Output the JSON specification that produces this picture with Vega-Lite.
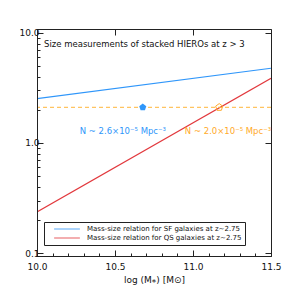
{
  "$schema": "https://vega.github.io/schema/vega-lite/v6.json",
  "width": 234,
  "height": 227,
  "autosize": {"type": "none"},
  "padding": {"left": 37, "top": 29, "right": 22, "bottom": 37},
  "config": {
    "view": {"stroke": "#222", "strokeWidth": 1},
    "font": "DejaVu Sans",
    "axis": {"grid": false, "zindex": 1, "domainColor": "#222", "tickColor": "#222", "tickWidth": 1, "labelColor": "#111", "titleColor": "#111", "labelFont": "DejaVu Sans", "titleFont": "DejaVu Sans", "titleFontWeight": "normal", "labelOverlap": false, "labelFlush": false}
  },
  "resolve": {"axis": {"x": "independent", "y": "independent"}, "scale": {"color": "independent"}},
  "layer": [
    {
      "data": {"values": [
        {"series": "Mass-size relation for SF galaxies at z~2.75", "logm": 10.0, "re": 2.53},
        {"series": "Mass-size relation for SF galaxies at z~2.75", "logm": 11.5, "re": 4.78},
        {"series": "Mass-size relation for QS galaxies at z~2.75", "logm": 10.0, "re": 0.236},
        {"series": "Mass-size relation for QS galaxies at z~2.75", "logm": 11.5, "re": 3.87}
      ]},
      "mark": {"type": "line", "strokeWidth": 1.1, "clip": true},
      "encoding": {
        "x": {"field": "logm", "type": "quantitative", "scale": {"domain": [10, 11.5], "nice": false, "zero": false},
          "axis": {"orient": "bottom", "values": [10, 10.5, 11, 11.5], "format": ".1f", "tickSize": -6, "zindex": 1,
            "labelPadding": 12, "labelFontSize": 9, "title": "log (M⁎) [M⊙]", "titleFontSize": 9, "titlePadding": 4}},
        "y": {"field": "re", "type": "quantitative", "scale": {"type": "log", "domain": [0.094, 10.86], "nice": false},
          "axis": {"orient": "left", "values": [0.1, 1, 10], "format": ".1f", "tickSize": -6, "zindex": 1,
            "labelPadding": 4, "labelFontSize": 9, "title": "Rₑ [kpc]", "titleFontSize": 9, "titlePadding": 21}},
        "color": {"field": "series", "type": "nominal",
          "scale": {"domain": ["Mass-size relation for SF galaxies at z~2.75", "Mass-size relation for QS galaxies at z~2.75"], "range": ["#2f96fa", "#e2383d"]},
          "legend": {"orient": "none", "legendX": 7, "legendY": 193, "title": null, "symbolType": "M-4.7,0H4.7", "symbolStrokeWidth": 2, "symbolOpacity": 0.4, "symbolSize": 30, "symbolOffset": 16, "labelOffset": 16, "labelFontSize": 7, "labelFont": "DejaVu Sans", "labelColor": "#111", "strokeColor": "#222", "padding": 3, "rowPadding": 1, "cornerRadius": 0, "fillColor": "white", "labelLimit": 300}}
      }
    },
    {
      "data": {"values": [{"re": 2.11}]},
      "mark": {"type": "rule", "color": "#ffb63a", "strokeDash": [4, 3], "strokeWidth": 1},
      "encoding": {"y": {"field": "re", "type": "quantitative", "axis": null}}
    },
    {
      "data": {"values": [
        {"sample": "N1", "logm": 10.678, "re": 2.11},
        {"sample": "N2", "logm": 11.168, "re": 2.11}
      ]},
      "layer": [
        {
          "transform": [{"filter": "datum.sample=='N1'"}],
          "mark": {"type": "point", "shape": "M0,-1L0.951,-0.309L0.588,0.809L-0.588,0.809L-0.951,-0.309Z", "filled": true, "color": "#2f96fa", "size": 55, "opacity": 1},
          "encoding": {
            "x": {"field": "logm", "type": "quantitative", "axis": {"orient": "top", "values": [10, 10.5, 11, 11.5], "tickSize": -6, "zindex": 1, "labels": false, "domain": false, "title": null}},
            "y": {"field": "re", "type": "quantitative", "axis": {"orient": "right", "values": [0.1, 1, 10], "tickSize": -6, "zindex": 1, "labels": false, "domain": false, "title": null}}
          }
        },
        {
          "transform": [{"filter": "datum.sample=='N2'"}],
          "mark": {"type": "point", "shape": "M0,-1L0.951,-0.309L0.588,0.809L-0.588,0.809L-0.951,-0.309Z", "filled": false, "color": "#ffaa2a", "size": 55, "strokeWidth": 1, "opacity": 1},
          "encoding": {
            "x": {"field": "logm", "type": "quantitative", "axis": {"orient": "top", "values": [10.1, 10.2, 10.3, 10.4, 10.6, 10.7, 10.8, 10.9, 11.1, 11.2, 11.3, 11.4], "tickSize": -3, "zindex": 1, "labels": false, "domain": false, "title": null}},
            "y": {"field": "re", "type": "quantitative", "axis": {"orient": "right", "values": [0.2, 0.3, 0.4, 0.5, 0.6, 0.7, 0.8, 0.9, 2, 3, 4, 5, 6, 7, 8, 9], "tickSize": -3, "zindex": 1, "labels": false, "domain": false, "title": null}}
          }
        }
      ]
    },
    {
      "data": {"values": [
        {"label": "Size measurements of stacked HIEROs at z > 3", "logm": 10.045, "re": 7.9}
      ]},
      "mark": {"type": "text", "fontSize": 8.5, "font": "DejaVu Sans", "align": "left", "color": "#111"},
      "encoding": {
        "x": {"field": "logm", "type": "quantitative",
          "axis": {"orient": "bottom", "values": [10.1, 10.2, 10.3, 10.4, 10.6, 10.7, 10.8, 10.9, 11.1, 11.2, 11.3, 11.4], "tickSize": -3, "zindex": 1, "labels": false, "title": null, "domain": false}},
        "y": {"field": "re", "type": "quantitative",
          "axis": {"orient": "left", "values": [0.2, 0.3, 0.4, 0.5, 0.6, 0.7, 0.8, 0.9, 2, 3, 4, 5, 6, 7, 8, 9], "tickSize": -3, "zindex": 1, "labels": false, "title": null, "domain": false}},
        "text": {"field": "label"}
      }
    },
    {
      "data": {"values": [
        {"label": "N ~ 2.6×10⁻⁵ Mpc⁻³", "logm": 10.55, "re": 1.29, "kind": "sf"},
        {"label": "N ~ 2.0×10⁻⁵ Mpc⁻³", "logm": 11.224, "re": 1.29, "kind": "qs"}
      ]},
      "mark": {"type": "text", "fontSize": 8.5, "font": "DejaVu Sans", "align": "center"},
      "encoding": {
        "x": {"field": "logm", "type": "quantitative", "axis": null},
        "y": {"field": "re", "type": "quantitative", "axis": null},
        "text": {"field": "label"},
        "color": {"field": "kind", "type": "nominal", "scale": {"domain": ["sf", "qs"], "range": ["#2f96fa", "#ffaa2a"]}, "legend": null}
      }
    }
  ]
}
